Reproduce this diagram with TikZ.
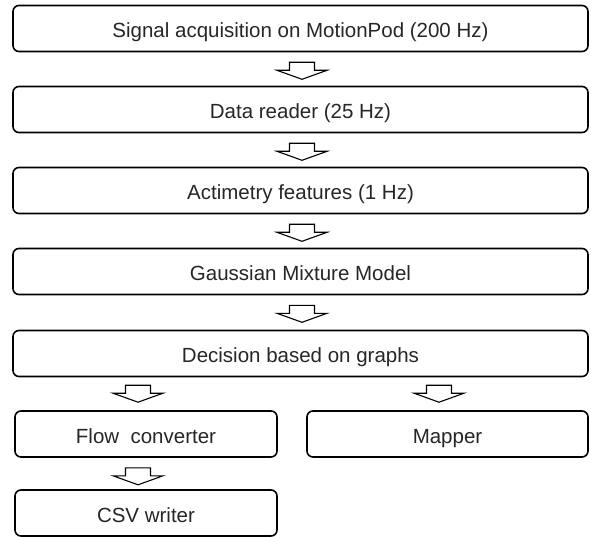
\documentclass[tikz,border=0pt]{standalone}
\usepackage{fontspec}
\setmainfont{Liberation Sans}
\usetikzlibrary{calc}

\tikzset{
  stage/.style={draw, line width=1.6pt, rounded corners=6pt, minimum height=46pt,
    inner sep=0pt, text height=22pt, text depth=4pt, text=black!85,
    font=\fontsize{20.5}{24}\selectfont},
  wide/.style={stage, minimum width=575pt},
  half/.style={stage, minimum width=262pt},
  halfwide/.style={stage, minimum width=281pt},
  blockarrow/.pic={
    \draw[line width=1.1pt, fill=white, line join=miter]
      (-12.5,0) -- (12.5,0) -- (12.5,8) -- (25,8) -- (0,17) -- (-25,8) -- (-12.5,8) -- cycle;
  }
}

\begin{document}
\begin{tikzpicture}[x=1pt, y=-1pt]
  \useasboundingbox (0,0) rectangle (591,537);

  % main processing chain
  \node[wide] (acq)   at (300.5, 28.5)  {Signal acquisition on MotionPod (200 Hz)};
  \node[wide] (read)  at (300.5, 109.5) {Data reader (25 Hz)};
  \node[wide] (feat)  at (300.5, 190.5) {Actimetry features (1 Hz)};
  \node[wide] (gmm)   at (300.5, 271.5) {Gaussian Mixture Model};
  \node[wide] (dec)   at (300.5, 353.5) {Decision based on graphs};

  % output branches
  \node[half]     (flow)   at (146, 434)   {Flow\ \ converter};
  \node[halfwide] (mapper) at (447.5, 434) {Mapper};
  \node[half]     (csv)    at (146, 513)   {CSV writer};

  % block arrows between stages
  \pic at ($(acq.south)+(1.5,10)$)  {blockarrow};
  \pic at ($(read.south)+(1.5,10)$) {blockarrow};
  \pic at ($(feat.south)+(1.5,10)$) {blockarrow};
  \pic at ($(gmm.south)+(1.5,10)$)  {blockarrow};
  \pic at ($(flow.north)+(-8,-25)$)   {blockarrow};
  \pic at ($(mapper.north)+(-8.5,-25)$) {blockarrow};
  \pic at ($(flow.south)+(-8,10)$)    {blockarrow};
\end{tikzpicture}
\end{document}
